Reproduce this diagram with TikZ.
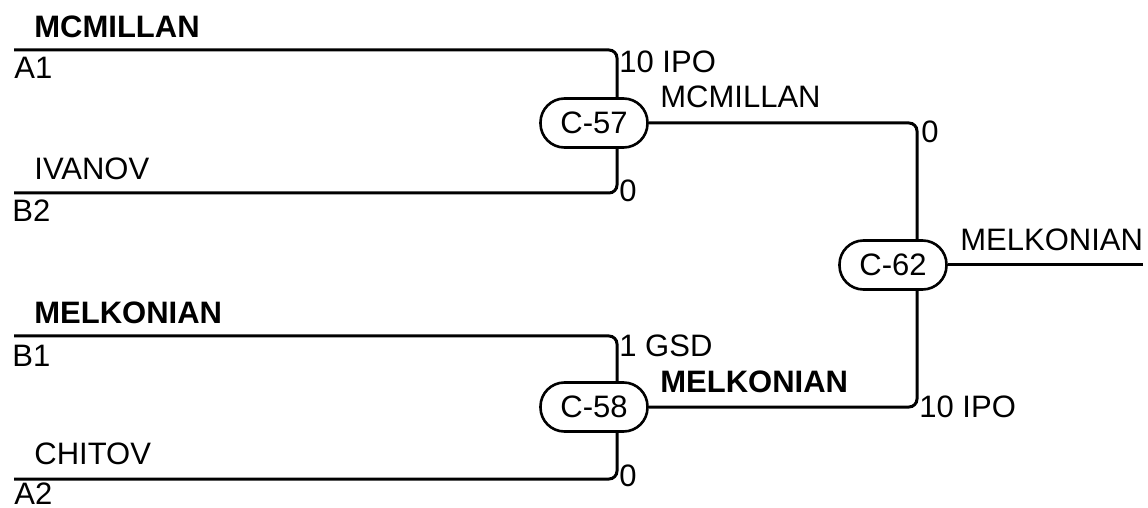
\documentclass[tikz,border=0pt]{standalone}
\usepackage{fontspec}
\setmainfont{Liberation Sans}
\usepackage{tikz}
\usetikzlibrary{positioning}
\tikzset{MatchNode/.style={draw,line width=1.3pt,rounded corners=12pt,minimum width=53.5pt,minimum height=24.5pt,inner sep=0pt},
	Lbl/.style={anchor=base west,inner sep=0pt},
	Wire/.style={line width=1.5pt,rounded corners=4pt}}

\begin{document}
\begin{tikzpicture}[x=0.5pt,y=-0.5pt,font=\fontsize{15.5pt}{18pt}\selectfont]
	\useasboundingbox (0,0) rectangle (1148,508);
	\node[MatchNode] (C57) at (594,123) {C-57};
	\node[MatchNode] (C58) at (594,407) {C-58};
	\node[MatchNode] (C62) at (893,265) {C-62};
	%
	\coordinate (A1) at (14,50);
	\coordinate (B2) at (14,193);
	\coordinate (B1) at (14,336);
	\coordinate (A2) at (14,479);
	\coordinate (W) at (1143,265);
	%
	\node[Lbl] (nA1) at (34,38) {\bfseries MCMILLAN};
	\node[Lbl] (tA1) at (14,79) {A1};
	\node[Lbl] (nB2) at (34,180) {IVANOV};
	\node[Lbl] (tB2) at (12,222) {B2};
	\node[Lbl] (nB1) at (34,323) {\bfseries MELKONIAN};
	\node[Lbl] (tB1) at (12,366) {B1};
	\node[Lbl] (nA2) at (34,465) {CHITOV};
	\node[Lbl] (tA2) at (14,504) {A2};
	\node[Lbl] (sA1) at (619,73) {10 IPO};
	\node[Lbl] (sB2) at (619,202) {0};
	\node[Lbl] (sB1) at (619,357) {1 GSD};
	\node[Lbl] (sA2) at (619,487) {0};
	\node[Lbl] (w57) at (660,108) {MCMILLAN};
	\node[Lbl] (w58) at (660,393) {\bfseries MELKONIAN};
	\node[Lbl] (s57) at (921,143) {0};
	\node[Lbl] (s58) at (919,417) {10 IPO};
	\node[Lbl] (w62) at (960,250) {MELKONIAN};
	%
	\draw[Wire] (A1) -| ([xshift=11.5pt]C57.north);
	\draw[Wire] (B2) -| ([xshift=11.5pt]C57.south);
	\draw[Wire] (B1) -| ([xshift=11.5pt]C58.north);
	\draw[Wire] (A2) -| ([xshift=11.5pt]C58.south);
	\draw[Wire] (C57.east) -| ([xshift=12pt]C62.north);
	\draw[Wire] (C58.east) -| ([xshift=12pt]C62.south);
	\draw[Wire] (C62.east) -- (W);
\end{tikzpicture}
\end{document}
